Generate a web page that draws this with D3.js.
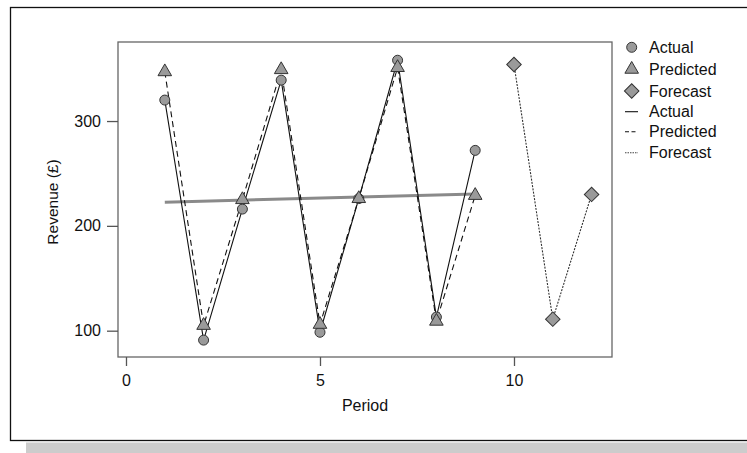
<!DOCTYPE html>
<html>
<head>
<meta charset="utf-8">
<script src="https://cdn.jsdelivr.net/npm/d3@7/dist/d3.min.js"></script>
<style>
  html, body { margin: 0; padding: 0; background: #fff; }
  svg { display: block; font-family: "Liberation Sans", Arial, Helvetica, sans-serif; }
</style>
</head>
<body>
<svg id="chart" width="747" height="453"></svg>
<script>
// Periods and series values
const actualPeriods = [1, 2, 3, 4, 5, 6, 7, 8, 9];
const actualValues = [320, 91, 216, 339, 98.5, 226, 358, 113, 272];
const predictedPeriods = [1, 2, 3, 4, 5, 6, 7, 8, 9];
const predictedValues = [347, 105, 225, 349, 106, 226, 351, 109, 229];
const forecastPeriods = [10, 11, 12];
const forecastValues = [354, 111, 230];
// Fitted trend line end points (period, revenue)
const trendPeriods = [1, 9];
const trendValues = [222.5, 230.5];
// Tick labels
const xTicks = [0, 5, 10];
const yTicks = [100, 200, 300];
const legendLabels = ["Actual", "Predicted", "Forecast", "Actual", "Predicted", "Forecast"];

const svg = d3.select("#chart");

// Outer frame with drop shadow
svg.append("rect").attr("x", 26).attr("y", 442.5).attr("width", 730).attr("height", 12).attr("fill", "#cccccc");
svg.append("rect").attr("x", 10.5).attr("y", 7.5).attr("width", 745).attr("height", 433)
  .attr("fill", "#fff").attr("stroke", "#111").attr("stroke-width", 1.3);

const panel = { left: 118, top: 42, right: 612, bottom: 357 };

const x = d3.scaleLinear().domain([-0.206, 12.526]).range([panel.left, panel.right]);
const y = d3.scaleLinear().domain([74.9, 375.4]).range([panel.bottom, panel.top]);

// Panel border
svg.append("rect")
  .attr("x", panel.left).attr("y", panel.top)
  .attr("width", panel.right - panel.left).attr("height", panel.bottom - panel.top)
  .attr("fill", "none").attr("stroke", "#666").attr("stroke-width", 1.3);

// Axes
const yAxis = svg.append("g").attr("transform", `translate(${panel.left},0)`)
  .call(d3.axisLeft(y).tickValues(yTicks).tickSize(11).tickPadding(6));
const xAxis = svg.append("g").attr("transform", `translate(0,${panel.bottom})`)
  .call(d3.axisBottom(x).tickValues(xTicks).tickSize(9).tickPadding(9));
[xAxis, yAxis].forEach(g => {
  g.select(".domain").remove();
  g.selectAll(".tick line").attr("stroke", "#555").attr("stroke-width", 1.3);
  g.selectAll(".tick text").attr("fill", "#111").style("font-size", "16px")
    .style("font-family", "'Liberation Sans', Arial, sans-serif");
});

// Axis titles
svg.append("text").attr("x", 365).attr("y", 411).attr("text-anchor", "middle")
  .attr("fill", "#111").style("font-size", "16px").text("Period");
svg.append("text").attr("transform", "translate(58,202) rotate(-90)").attr("text-anchor", "middle")
  .attr("fill", "#111").style("font-size", "15.5px").text("Revenue (£)");

const toPts = (ps, vs) => ps.map((p, i) => [p, vs[i]]);
const actual = toPts(actualPeriods, actualValues);
const predicted = toPts(predictedPeriods, predictedValues);
const forecast = toPts(forecastPeriods, forecastValues);
const trend = toPts(trendPeriods, trendValues);

const line = d3.line().x(d => x(d[0])).y(d => y(d[1]));

// Trend line
svg.append("path").attr("d", line(trend)).attr("fill", "none")
  .attr("stroke", "#8a8a8a").attr("stroke-width", 3);

// Series lines
svg.append("path").attr("d", line(actual)).attr("fill", "none")
  .attr("stroke", "#111").attr("stroke-width", 1.1);
svg.append("path").attr("d", line(predicted)).attr("fill", "none")
  .attr("stroke", "#111").attr("stroke-width", 1.1).attr("stroke-dasharray", "6,4");
svg.append("path").attr("d", line(forecast)).attr("fill", "none")
  .attr("stroke", "#333").attr("stroke-width", 1.1).attr("stroke-dasharray", "2,1.3");

const markerFill = "#9a9a9a", markerStroke = "#333";
const sym = {
  circle: d3.symbol().type(d3.symbolCircle).size(Math.PI * 25),
  triangle: d3.symbol().type(d3.symbolTriangle).size(80),
  diamond: d3.symbol().type(d3.symbolSquare).size(105)
};

function drawMarkers(data, kind) {
  svg.append("g").selectAll("path").data(data).join("path")
    .attr("d", sym[kind]())
    .attr("transform", d => `translate(${x(d[0])},${y(d[1])})` + (kind === "diamond" ? " rotate(45)" : ""))
    .attr("fill", markerFill).attr("stroke", markerStroke).attr("stroke-width", 1);
}
drawMarkers(actual, "circle");
drawMarkers(predicted, "triangle");
drawMarkers(forecast, "diamond");

// Legend
const legendY = [47.3, 69.3, 91, 111.7, 131.7, 152.7];
const lg = svg.append("g");
legendLabels.forEach((lab, i) => {
  const cy = legendY[i];
  if (i < 3) {
    const kind = ["circle", "triangle", "diamond"][i];
    lg.append("path").attr("d", sym[kind]())
      .attr("transform", `translate(631.7,${cy})` + (kind === "diamond" ? " rotate(45)" : ""))
      .attr("fill", markerFill).attr("stroke", markerStroke).attr("stroke-width", 1);
  } else {
    const dash = [null, "4,2.5", "1.5,1"][i - 3];
    lg.append("line").attr("x1", 625).attr("x2", 638).attr("y1", cy).attr("y2", cy)
      .attr("stroke", i === 5 ? "#444" : "#111").attr("stroke-width", 1.1)
      .attr("stroke-dasharray", dash);
  }
  lg.append("text").attr("x", 649).attr("y", cy + 5.6).attr("fill", "#111")
    .style("font-size", "16px").text(lab);
});
</script>
</body>
</html>
